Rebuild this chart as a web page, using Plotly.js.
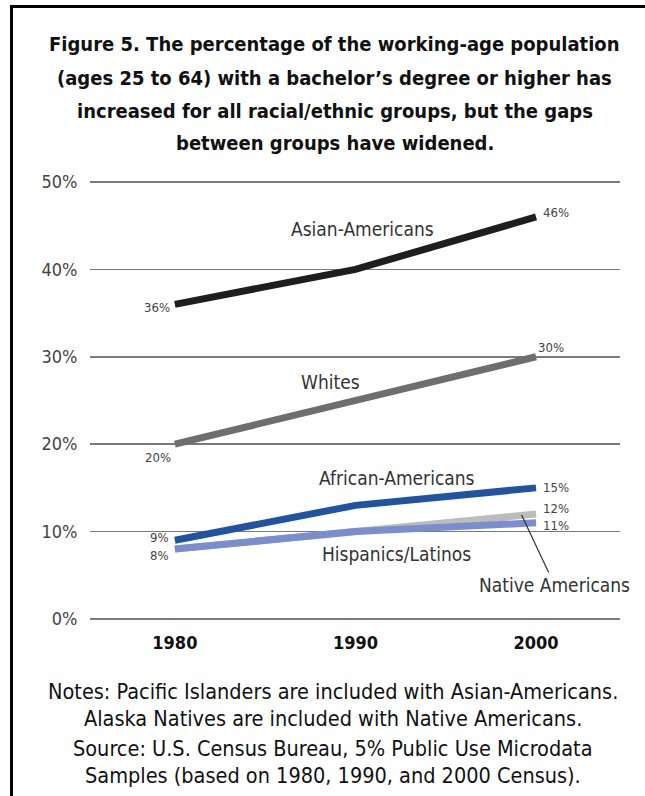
<!DOCTYPE html>
<html>
<head>
<meta charset="utf-8">
<script src="https://cdn.plot.ly/plotly-3.0.1.min.js"></script>
<style>
  html, body { margin: 0; padding: 0; background: #fff; }
  #wrap { position: relative; width: 645px; height: 796px; overflow: hidden; }
  #chart { position: absolute; left: 0; top: 0; width: 645px; height: 796px; }
  #frame { position: absolute; left: 10px; top: 5px; width: 700px; height: 900px;
           border-top: 3px solid #000; border-left: 3px solid #000; pointer-events: none; }
</style>
</head>
<body>
<div id="wrap"><div id="chart"></div><div id="frame"></div></div>
<script>
// ---- data ----
const years = [1980, 1990, 2000];
const asian = [36, 40, 46];
const whites = [20, 25, 30];
const african = [9, 13, 15];
const hispanic = [8, 10, 11];
const native = [8, 10, 12];
const yTicks = [0, 10, 20, 30, 40, 50];
const yTickLabels = ['0%', '10%', '20%', '30%', '40%', '50%'];
const xTickLabels = ['1980', '1990', '2000'];

const titleLines = [
  'Figure 5. The percentage of the working-age population',
  '(ages 25 to 64) with a bachelor\u2019s degree or higher has',
  'increased for all racial/ethnic groups, but the gaps',
  'between groups have widened.'
];
const noteLines = [
  'Notes: Pacific Islanders are included with Asian-Americans.',
  'Alaska Natives are included with Native Americans.',
  'Source: U.S. Census Bureau, 5% Public Use Microdata',
  'Samples (based on 1980, 1990, and 2000 Census).'
];

const FONT = '"DejaVu Sans Condensed", "Liberation Sans Narrow", sans-serif';
const W = 7;

function line(y, color, name) {
  return { x: years, y: y, type: 'scatter', mode: 'lines', name: name,
           line: { color: color, width: W }, hoverinfo: 'skip' };
}
const traces = [
  line(native, '#bcbcbc', 'Native Americans'),
  line(hispanic, '#7a8dcf', 'Hispanics/Latinos'),
  line(african, '#2153a3', 'African-Americans'),
  line(whites, '#6e6e6e', 'Whites'),
  line(asian, '#1e1e1e', 'Asian-Americans')
];

// plot area pixel geometry (layout only)
const plotTop = 170, plotBottom = 625;
const py = p => (plotBottom - p) / (plotBottom - plotTop);

const annotations = [];
titleLines.forEach((t, i) => {
  annotations.push({ text: t, xref: 'paper', yref: 'paper', x: 0.462, y: py([44, 78, 111, 143][i]),
    xanchor: 'center', yanchor: 'middle', showarrow: false,
    font: { family: FONT, size: 20, color: '#111', weight: 'bold' } });
});
noteLines.forEach((t, i) => {
  annotations.push({ text: t, xref: 'paper', yref: 'paper', x: 0.458, y: py([691, 718, 748, 775][i]),
    xanchor: 'center', yanchor: 'middle', showarrow: false,
    font: { family: FONT, size: 21.5, color: '#111' } });
});

const lab = { family: FONT, size: 13, color: '#444' };
function dl(x, y, text, xanchor, xs, ys) {
  annotations.push({ x: x, y: y, xref: 'x', yref: 'y', text: text, showarrow: false,
    xanchor: xanchor, yanchor: 'middle', xshift: xs, yshift: ys, font: lab });
}
dl(years[0], asian[0], asian[0] + '%', 'right', -3, -3);
dl(years[2], asian[2], asian[2] + '%', 'left', 5, 4);
dl(years[0], whites[0], whites[0] + '%', 'center', -17, -13);
dl(years[2], whites[2], whites[2] + '%', 'center', 15, 9);
dl(years[0], african[0], african[0] + '%', 'right', -4, 3);
dl(years[0], hispanic[0], hispanic[0] + '%', 'right', -4, -6);
dl(years[2], african[2], african[2] + '%', 'left', 5, 0);
dl(years[2], native[2], native[2] + '%', 'left', 5, 6);
dl(years[2], hispanic[2], hispanic[2] + '%', 'left', 5, -3);

const sl = { family: FONT, size: 19, color: '#333' };
function series(x, y, text) {
  annotations.push({ x: x, y: y, xref: 'x', yref: 'y', text: text, showarrow: false,
    xanchor: 'center', yanchor: 'middle', font: sl });
}
series(1990.4, 44.6, 'Asian-Americans');
series(1988.6, 27.1, 'Whites');
series(1992.3, 16.1, 'African-Americans');
series(1992.3, 7.4, 'Hispanics/Latinos');
annotations.push({ x: 1999.2, y: 11.9, xref: 'x', yref: 'y', text: 'Native Americans',
  showarrow: true, arrowhead: 0, arrowwidth: 1.2, arrowcolor: '#333', standoff: 0,
  ax: 33, ay: 70, xanchor: 'center', yanchor: 'middle', font: sl });

const layout = {
  width: 645, height: 796,
  margin: { l: 90, r: 25, t: plotTop, b: 796 - plotBottom, pad: 0 },
  paper_bgcolor: '#fff', plot_bgcolor: '#fff',
  showlegend: false,
  xaxis: { range: [1975.3, 2004.65], tickvals: years, ticktext: xTickLabels,
    showgrid: false, zeroline: false, showline: false,
    ticks: 'outside', ticklen: 1, tickcolor: 'rgba(0,0,0,0)',
    tickfont: { family: FONT, size: 18, color: '#111', weight: 'bold' } },
  yaxis: { range: [-0.69, 51.37], tickvals: yTicks, ticktext: yTickLabels,
    showgrid: true, gridcolor: '#7a7a7a', gridwidth: 1.5, zeroline: false, showline: false,
    ticks: 'outside', ticklen: 8, tickcolor: 'rgba(0,0,0,0)',
    tickfont: { family: FONT, size: 18, color: '#444' } },
  annotations: annotations
};

Plotly.newPlot('chart', traces, layout, { displayModeBar: false, staticPlot: true });
</script>
</body>
</html>
